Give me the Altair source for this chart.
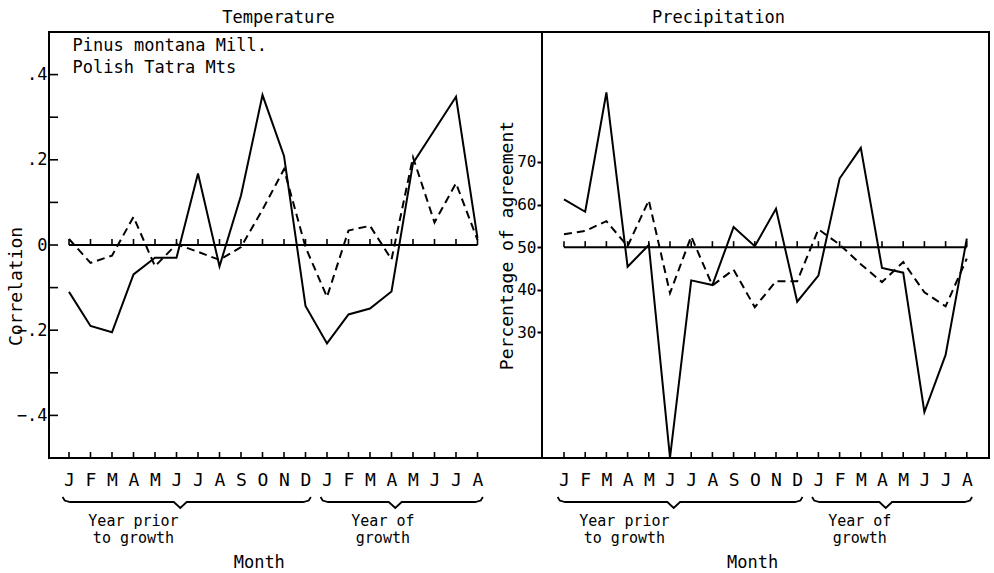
import altair as alt
import pandas as pd

# ---------------- data ----------------
months = ["J", "F", "M", "A", "M", "J", "J", "A", "S", "O", "N", "D",
          "J", "F", "M", "A", "M", "J", "J", "A"]
temp_solid = [-0.110, -0.190, -0.205, -0.069, -0.030, -0.030, 0.168, -0.050, 0.116, 0.352,
              0.209, -0.143, -0.231, -0.163, -0.149, -0.109, 0.192, 0.270, 0.348, 0.016]
temp_dashed = [0.014, -0.042, -0.025, 0.066, -0.050, 0.002, -0.016, -0.035, -0.005, 0.083,
               0.178, -0.005, -0.122, 0.034, 0.045, -0.034, 0.206, 0.053, 0.145, 0.012]
prec_solid = [61.2, 58.3, 86.3, 45.4, 50.5, 0.6, 42.2, 41.1, 54.7, 50.2,
              59.0, 37.2, 43.3, 66.1, 73.3, 45.1, 44.0, 11.3, 24.7, 52.0]
prec_dashed = [53.0, 53.8, 56.1, 50.2, 61.0, 39.2, 52.5, 41.0, 44.7, 35.9,
               42.0, 42.0, 54.2, 50.6, 46.0, 41.8, 46.5, 39.4, 36.1, 47.3]
corr_tick_values = [-0.4, -0.3, -0.2, -0.1, 0.0, 0.1, 0.2, 0.3, 0.4]
corr_label_values = [-0.4, -0.2, 0.0, 0.2, 0.4]
pct_label_values = [30, 40, 50, 60, 70]
period_names = ["Year prior\nto growth", "Year of\ngrowth"]
period_months = [(0, 11), (12, 19)]
species = "Pinus montana Mill.\nPolish Tatra Mts"
panel_titles = ["Temperature", "Precipitation"]
axis_titles = ["Correlation", "Percentage of agreement"]
x_title = "Month"

# ---------------- layout ----------------
FONT = "DejaVu Sans Mono"
H = 426
N = len(months)
ASC = 0.79  # baseline offset factor of a 'top'-aligned text


def panel(W, step, off, ydom, solid, dashed, ref, yaxis, title, title_dx,
          period_x, month_x, inward_ticks=None, species_text=None):
    xdom = [-off / step, (W - off) / step]
    xs = alt.Scale(domain=xdom, nice=False, zero=False)
    ys = alt.Scale(domain=ydom, nice=False, zero=False)
    upp = (ydom[1] - ydom[0]) / H  # data units per pixel (y)
    xpp = 1.0 / step                # data units per pixel (x)

    def below(px):
        return ydom[0] - px * upp

    label_expr = "[" + ",".join("'%s'" % m for m in months) + "][datum.value]"
    xaxis = alt.Axis(values=list(range(N)), labelExpr=label_expr, ticks=False, tickSize=0,
                     domain=False, grid=False, title=None, labelFontSize=18,
                     labelPadding=13, labelOverlap=False, labelFlush=False,
                     labelFont=FONT, labelColor="black")

    def X(f):
        return alt.X(f, type="quantitative", scale=xs, axis=xaxis)

    def Y(f):
        return alt.Y(f, type="quantitative", scale=ys, axis=yaxis)

    df = pd.DataFrame({"idx": list(range(N)), "solid": solid, "dashed": dashed})
    layers = []
    layers.append(alt.Chart(df).mark_line(color="black", strokeWidth=2)
                  .encode(x=X("idx"), y=Y("solid")))
    layers.append(alt.Chart(df).mark_line(color="black", strokeWidth=2, strokeDash=[8, 5])
                  .encode(x=X("idx"), y=Y("dashed")))

    # reference line with its small upward ticks
    ref_df = pd.DataFrame({"x": [0], "x2": [N - 1], "y": [ref]})
    layers.append(alt.Chart(ref_df).mark_rule(color="black", strokeWidth=2)
                  .encode(x=X("x"), x2="x2", y=Y("y")))
    tdf = pd.DataFrame({"idx": list(range(N)),
                        "r0": [ref] * N, "r1": [ref + 6 * upp] * N,
                        "b0": [ydom[0]] * N, "b1": [ydom[0] + 6 * upp] * N})
    layers.append(alt.Chart(tdf).mark_rule(color="black", strokeWidth=1.6)
                  .encode(x=X("idx"), y=Y("r0"), y2="r1"))
    layers.append(alt.Chart(tdf).mark_rule(color="black", strokeWidth=1.6)
                  .encode(x=X("idx"), y=Y("b0"), y2="b1"))

    if inward_ticks is not None:
        idf = pd.DataFrame({"v": inward_ticks,
                            "x0": [xdom[0]] * len(inward_ticks),
                            "x1": [xdom[0] + 9 * xpp] * len(inward_ticks)})
        layers.append(alt.Chart(idf).mark_rule(color="black", strokeWidth=1.6)
                      .encode(x=X("x0"), x2="x1", y=Y("v")))

    # braces under the month labels
    rows = []
    for b, (m0, m1) in enumerate(period_months):
        x0, x1 = m0 - 0.3, m1 + 0.25
        xc = (x0 + x1) / 2 - 0.3
        pts = [(x0, 39), (x0 + 0.1, 42.5), (x0 + 0.35, 44), (xc - 0.3, 44), (xc, 50),
               (xc + 0.3, 44), (x1 - 0.35, 44), (x1 - 0.1, 42.5), (x1, 39)]
        for k, (px, py) in enumerate(pts):
            rows.append({"brace": b, "order": k, "x": px, "y": below(py)})
    bdf = pd.DataFrame(rows)
    layers.append(alt.Chart(bdf).mark_line(color="black", strokeWidth=1.8, clip=False)
                  .encode(x=X("x"), y=Y("y"), detail="brace:N", order="order:Q"))

    fs_p = 15
    pdf = pd.DataFrame({"x": period_x, "y": [below(67.5 - ASC * fs_p)] * 2, "t": period_names})
    layers.append(alt.Chart(pdf).mark_text(font=FONT, fontSize=fs_p, color="black",
                                           align="center", baseline="top",
                                           lineBreak="\n", lineHeight=17, clip=False)
                  .encode(x=X("x"), y=Y("y"), text="t:N"))
    mdf = pd.DataFrame({"x": [month_x], "y": [below(110)], "t": [x_title]})
    layers.append(alt.Chart(mdf).mark_text(font=FONT, fontSize=17, color="black",
                                           align="center", baseline="alphabetic", clip=False)
                  .encode(x=X("x"), y=Y("y"), text="t:N"))

    if species_text is not None:
        fs_s = 17
        sdf = pd.DataFrame({"x": [(72 - 48.5 - off) * xpp],
                            "y": [ydom[1] - (19.7 - ASC * fs_s) * upp],
                            "t": [species_text]})
        layers.append(alt.Chart(sdf).mark_text(font=FONT, fontSize=fs_s, color="black",
                                               align="left", baseline="top",
                                               lineBreak="\n", lineHeight=21.8)
                      .encode(x=X("x"), y=Y("y"), text="t:N"))

    return alt.layer(*layers).properties(
        width=W, height=H,
        title=alt.TitleParams(title, anchor="middle", dx=title_dx, offset=-8,
                              baseline="alphabetic", fontSize=17, fontWeight="normal",
                              font=FONT, color="black"))


corr_expr = "datum.value == 0 ? '0' : replace(format(datum.value, '.1f'), '0.', '.')"
yaxis_left = alt.Axis(values=corr_label_values, labelExpr=corr_expr, ticks=False, tickSize=0,
                      domain=False, grid=False, title=axis_titles[0], titleX=-33, titleY=254,
                      titleAngle=270, titleAlign="center", titleBaseline="middle",
                      titleFontSize=18, titleFontWeight="normal", titleFont=FONT,
                      titleColor="black", labelFontSize=17, labelPadding=2,
                      labelFont=FONT, labelColor="black")
yaxis_right = alt.Axis(values=pct_label_values, ticks=True, tickSize=5, tickWidth=2,
                       tickColor="black", domain=False, grid=False, title=axis_titles[1],
                       titleX=-34.5, titleY=213, titleAngle=270, titleAlign="center",
                       titleBaseline="middle", titleFontSize=18, titleFontWeight="normal",
                       titleFont=FONT, titleColor="black", labelFontSize=16, labelPadding=1,
                       labelFont=FONT, labelColor="black")

left = panel(493, 21.5, 20, [-0.5, 0.5], temp_solid, temp_dashed, 0.0, yaxis_left,
             panel_titles[0], -17, [3.0, 14.6], 8.85,
             inward_ticks=corr_tick_values, species_text=species)
right = panel(447, 21.2, 22, [0.5, 100.5], prec_solid, prec_dashed, 50.0, yaxis_right,
              panel_titles[1], -47, [2.85, 13.95], 8.9)

chart = (alt.hconcat(left, right, spacing=0, bounds="flush")
         .properties(padding={"left": 6, "top": 8, "right": 4, "bottom": 0})
         .configure(font=FONT)
         .configure_view(stroke="black", strokeWidth=2))

chart.save("out.html", embed_options={"renderer": "svg", "actions": False})
